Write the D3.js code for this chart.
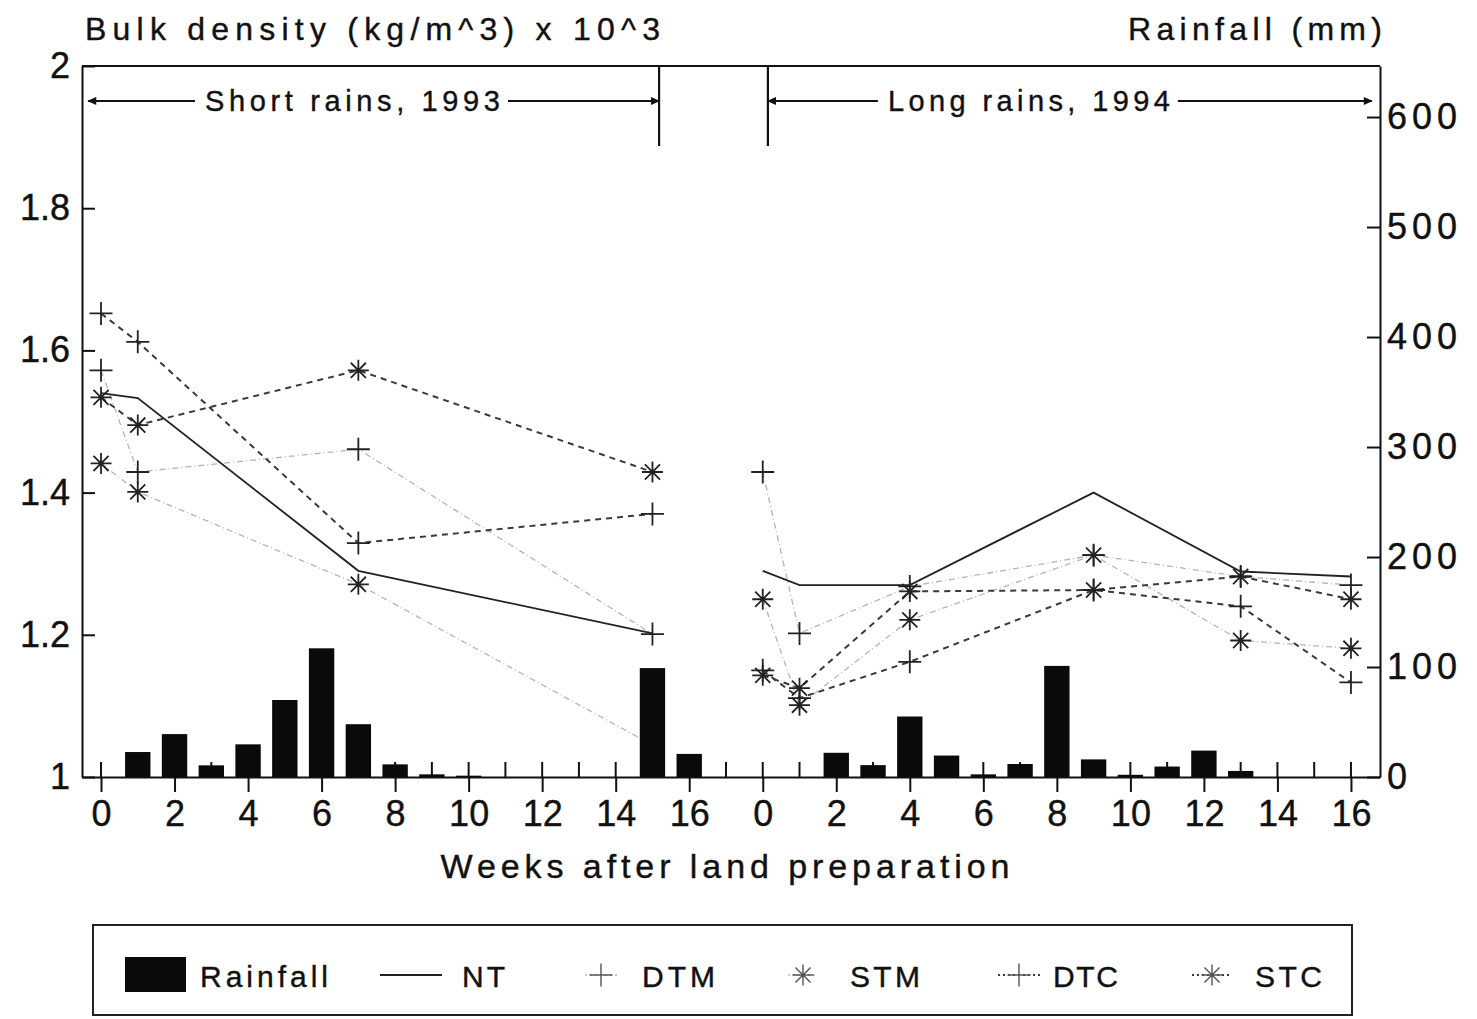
<html>
<head>
<meta charset="utf-8">
<script src="https://d3js.org/d3.v7.min.js"></script>
<style>
  body { margin: 0; background: #ffffff; }
  text { font-family: "Liberation Sans", Arial, sans-serif; fill: #111; stroke: #111; stroke-width: 0.4; }
  .axis path, .axis line { stroke: #111; stroke-width: 2; }
  .axis text { font-size: 36px; fill: #111; }
  .raxis text { letter-spacing: 5px; }
</style>
</head>
<body>
<script>
// ** data
// observation weeks (weeks after land preparation) for each season
var shortWeeks = [0, 1, 7, 15];
var longWeeks  = [0, 1, 4, 9, 13, 16];
var longOffset = 18;   // long rains axis restarts 18 slots to the right

// bulk density (kg/m^3 x 10^3)
var ntShort  = [1.540, 1.533, 1.290, 1.202];
var ntLong   = [1.290, 1.270, 1.270, 1.400, 1.289, 1.282];
var dtmShort = [1.572, 1.429, 1.461, 1.201];
var dtmLong  = [1.429, 1.202, 1.268, 1.312, 1.282, 1.270];
var stmShort = [1.441, 1.401, 1.271, 1.045];
var stmLong  = [1.250, 1.101, 1.221, 1.312, 1.192, 1.181];
var dtcShort = [1.652, 1.612, 1.329, 1.370];
var dtcLong  = [1.150, 1.111, 1.162, 1.263, 1.240, 1.133];
var stcShort = [1.534, 1.495, 1.572, 1.429];
var stcLong  = [1.143, 1.125, 1.261, 1.263, 1.282, 1.250];

// weekly rainfall (mm), week 0..17 of short rains, week 0..16 of long rains
var rainShort = [0, 22.7, 39, 10.6, 29.7, 70, 117, 48, 11.5, 2.4, 1.2, 0, 0, 0, 0, 99, 21, 0];
var rainLong  = [0, 0, 22, 10.8, 55, 19.5, 2.4, 11.8, 101, 16, 2, 9.5, 24, 5.5, 0, 0, 0];

var densityTicks = [1, 1.2, 1.4, 1.6, 1.8, 2];
var rainTicks = [0, 100, 200, 300, 400, 500, 600];
var weekTicks = d3.range(0, 35);

var seasonNames = ["Short rains, 1993", "Long rains, 1994"];

// ** canvas
var width = 1477, height = 1019;
var plot = { left: 82, right: 1380, top: 66, bottom: 777 };

var svg = d3.select("body").append("svg")
    .attr("width", width)
    .attr("height", height);

svg.append("rect").attr("width", width).attr("height", height).attr("fill", "#fff");

// *** scales
var xScale = d3.scaleLinear().domain([-0.517, 34.79]).range([plot.left, plot.right]);
var yScale = d3.scaleLinear().domain([1, 2]).range([plot.bottom, plot.top]);
var rScale = d3.scaleLinear().domain([0, 646.4]).range([plot.bottom, plot.top]);

function weekLabel(p) { return p < longOffset ? p : p - longOffset; }

// *** frame + axes
svg.append("line")
    .attr("x1", plot.left).attr("x2", plot.right)
    .attr("y1", plot.top).attr("y2", plot.top)
    .attr("stroke", "#111").attr("stroke-width", 2);

svg.append("g")
    .attr("class", "axis")
    .attr("transform", "translate(" + plot.left + ",0)")
    .call(d3.axisLeft(yScale).tickValues(densityTicks)
        .tickSizeInner(-13).tickSizeOuter(0).tickPadding(12)
        .tickFormat(function(d){ return +d.toFixed(1); }));

svg.append("g")
    .attr("class", "axis raxis")
    .attr("transform", "translate(" + plot.right + ",0)")
    .call(d3.axisRight(rScale).tickValues(rainTicks)
        .tickSizeInner(-13).tickSizeOuter(0).tickPadding(7));

var xAxis = svg.append("g")
    .attr("class", "axis")
    .attr("transform", "translate(0," + plot.bottom + ")")
    .call(d3.axisBottom(xScale)
        .tickValues(weekTicks.filter(function(p){ return p % 2 == 0; }))
        .tickSize(15).tickSizeOuter(0).tickPadding(8)
        .tickFormat(weekLabel));

// upper half of every week tick
xAxis.selectAll(".uptick")
    .data(weekTicks)
    .enter().append("line")
    .attr("class", "uptick")
    .attr("x1", function(d){ return xScale(d); })
    .attr("x2", function(d){ return xScale(d); })
    .attr("y1", 0).attr("y2", -15);

// *** season annotations
var seasons = [
  { name: seasonNames[0], from: -0.35, to: 15.18, mid: 6.84, len: 295 },
  { name: seasonNames[1], from: 18.14, to: 34.57, mid: 25.24, len: 282 }
];

var defs = svg.append("defs");
defs.append("marker").attr("id", "head")
    .attr("viewBox", "0 0 10 10").attr("refX", 9).attr("refY", 5)
    .attr("markerWidth", 6).attr("markerHeight", 4.5)
    .attr("orient", "auto-start-reverse")
    .append("path").attr("d", "M10,5L0,0.5L0,9.5Z").attr("fill", "#111");

var annY = 101;
seasons.forEach(function(s, i){
    var cx = xScale(s.mid);
    svg.append("text")
        .attr("x", cx).attr("y", annY + 10)
        .attr("text-anchor", "middle")
        .attr("font-size", 29)
        .attr("textLength", s.len).attr("lengthAdjust", "spacing")
        .text(s.name);
    svg.append("line")
        .attr("x1", xScale(s.from)).attr("x2", cx - s.len / 2 - 10)
        .attr("y1", annY).attr("y2", annY)
        .attr("stroke", "#111").attr("stroke-width", 2)
        .attr("marker-start", "url(#head)");
    svg.append("line")
        .attr("x1", cx + s.len / 2 + 8).attr("x2", xScale(s.to))
        .attr("y1", annY).attr("y2", annY)
        .attr("stroke", "#111").attr("stroke-width", 2)
        .attr("marker-end", "url(#head)");
});
// season dividers
[seasons[0].to, seasons[1].from].forEach(function(p){
    svg.append("line")
        .attr("x1", xScale(p)).attr("x2", xScale(p))
        .attr("y1", plot.top).attr("y2", 146)
        .attr("stroke", "#111").attr("stroke-width", 2.2);
});

// *** density lines
function plusPath(s){ return "M" + (-s) + ",0H" + s + "M0," + (-s) + "V" + s; }
function starPath(s){
    var d = s * 0.72;
    return plusPath(s) + "M" + (-d) + "," + (-d) + "L" + d + "," + d +
           "M" + (-d) + "," + d + "L" + d + "," + (-d);
}

var series = [
  { name: "DTM", a: dtmShort, b: dtmLong, marker: "plus", dash: "6,3,1,3", color: "#b4b4b4", w: 1.3 },
  { name: "STM", a: stmShort, b: stmLong, marker: "star", dash: "6,3,1,3", color: "#b4b4b4", w: 1.3 },
  { name: "DTC", a: dtcShort, b: dtcLong, marker: "plus", dash: "6,5", color: "#3a3a3a", w: 2 },
  { name: "STC", a: stcShort, b: stcLong, marker: "star", dash: "6,5", color: "#3a3a3a", w: 2 },
  { name: "NT",  a: ntShort,  b: ntLong,  marker: null,   dash: null,  color: "#222",    w: 1.8 }
];

var line = d3.line()
    .x(function(d){ return xScale(d.pos); })
    .y(function(d){ return yScale(d.v); });

series.forEach(function(s){
    var segs = [
      shortWeeks.map(function(w, i){ return { pos: w, v: s.a[i] }; }),
      longWeeks.map(function(w, i){ return { pos: w + longOffset, v: s.b[i] }; })
    ];
    segs.forEach(function(seg){
        svg.append("path")
            .attr("d", line(seg))
            .attr("fill", "none")
            .attr("stroke", s.color)
            .attr("stroke-width", s.w)
            .attr("stroke-dasharray", s.dash);
    });
    s.points = segs[0].concat(segs[1]);
});

series.forEach(function(s){
    if (!s.marker) return;
    svg.selectAll(".m" + s.name)
        .data(s.points)
        .enter().append("path")
        .attr("class", "m" + s.name)
        .attr("transform", function(d){ return "translate(" + xScale(d.pos) + "," + yScale(d.v) + ")"; })
        .attr("d", s.marker == "plus" ? plusPath(11.5) : starPath(10.5))
        .attr("fill", "none")
        .attr("stroke", "#222")
        .attr("stroke-width", 1.8);
});

// *** rainfall bars (drawn last, they cover what lies behind)
var rainData = rainShort.map(function(v, i){ return { pos: i, v: v }; })
    .concat(rainLong.map(function(v, i){ return { pos: i + longOffset, v: v }; }))
    .filter(function(d){ return d.v > 0; });

var barW = xScale(0.69) - xScale(0);
svg.selectAll(".bar")
    .data(rainData)
    .enter().append("rect")
    .attr("class", "bar")
    .attr("x", function(d){ return xScale(d.pos) - barW / 2; })
    .attr("width", barW)
    .attr("y", function(d){ return rScale(d.v); })
    .attr("height", function(d){ return rScale(0) - rScale(d.v); })
    .attr("fill", "#0a0a0a");

// *** titles
svg.append("text")
    .attr("x", 85).attr("y", 40)
    .attr("font-size", 32)
    .attr("textLength", 575).attr("lengthAdjust", "spacing")
    .text("Bulk density (kg/m^3) x 10^3");

svg.append("text")
    .attr("x", 1382).attr("y", 40)
    .attr("text-anchor", "end")
    .attr("font-size", 32)
    .attr("textLength", 254).attr("lengthAdjust", "spacing")
    .text("Rainfall (mm)");

svg.append("text")
    .attr("x", 725).attr("y", 878)
    .attr("text-anchor", "middle")
    .attr("font-size", 34)
    .attr("textLength", 569).attr("lengthAdjust", "spacing")
    .text("Weeks after land preparation");

// *** legend
var legend = svg.append("g");
legend.append("rect")
    .attr("x", 93).attr("y", 925)
    .attr("width", 1259).attr("height", 90)
    .attr("fill", "none").attr("stroke", "#222").attr("stroke-width", 2);

var legY = 975;
legend.append("rect")
    .attr("x", 125).attr("y", legY - 18)
    .attr("width", 61).attr("height", 35)
    .attr("fill", "#0a0a0a");

var legItems = [
  { name: "Rainfall", tx: 200, len: 128 },
  { name: "NT",  sx: 411,  half: 31, tx: 462,  len: 43 },
  { name: "DTM", sx: 601,  half: 16, tx: 642,  len: 73 },
  { name: "STM", sx: 803,  half: 15, tx: 850,  len: 70 },
  { name: "DTC", sx: 1019, half: 21, tx: 1053, len: 65 },
  { name: "STC", sx: 1212, half: 20, tx: 1255, len: 67 }
];

legItems.forEach(function(it){
    legend.append("text")
        .attr("x", it.tx).attr("y", legY + 12)
        .attr("font-size", 30)
        .attr("textLength", it.len).attr("lengthAdjust", "spacing")
        .text(it.name);
    var s = series.filter(function(d){ return d.name == it.name; })[0];
    if (!s) return;
    legend.append("line")
        .attr("x1", it.sx - it.half).attr("x2", it.sx + it.half)
        .attr("y1", legY).attr("y2", legY)
        .attr("stroke", s.color).attr("stroke-width", s.w)
        .attr("stroke-dasharray", s.dash ? "2,3" : null);
    if (s.marker) {
        legend.append("path")
            .attr("transform", "translate(" + it.sx + "," + legY + ")")
            .attr("d", s.marker == "plus" ? plusPath(11.5) : starPath(10.5))
            .attr("fill", "none").attr("stroke", "#555").attr("stroke-width", 1.4);
    }
});
</script>
</body>
</html>
